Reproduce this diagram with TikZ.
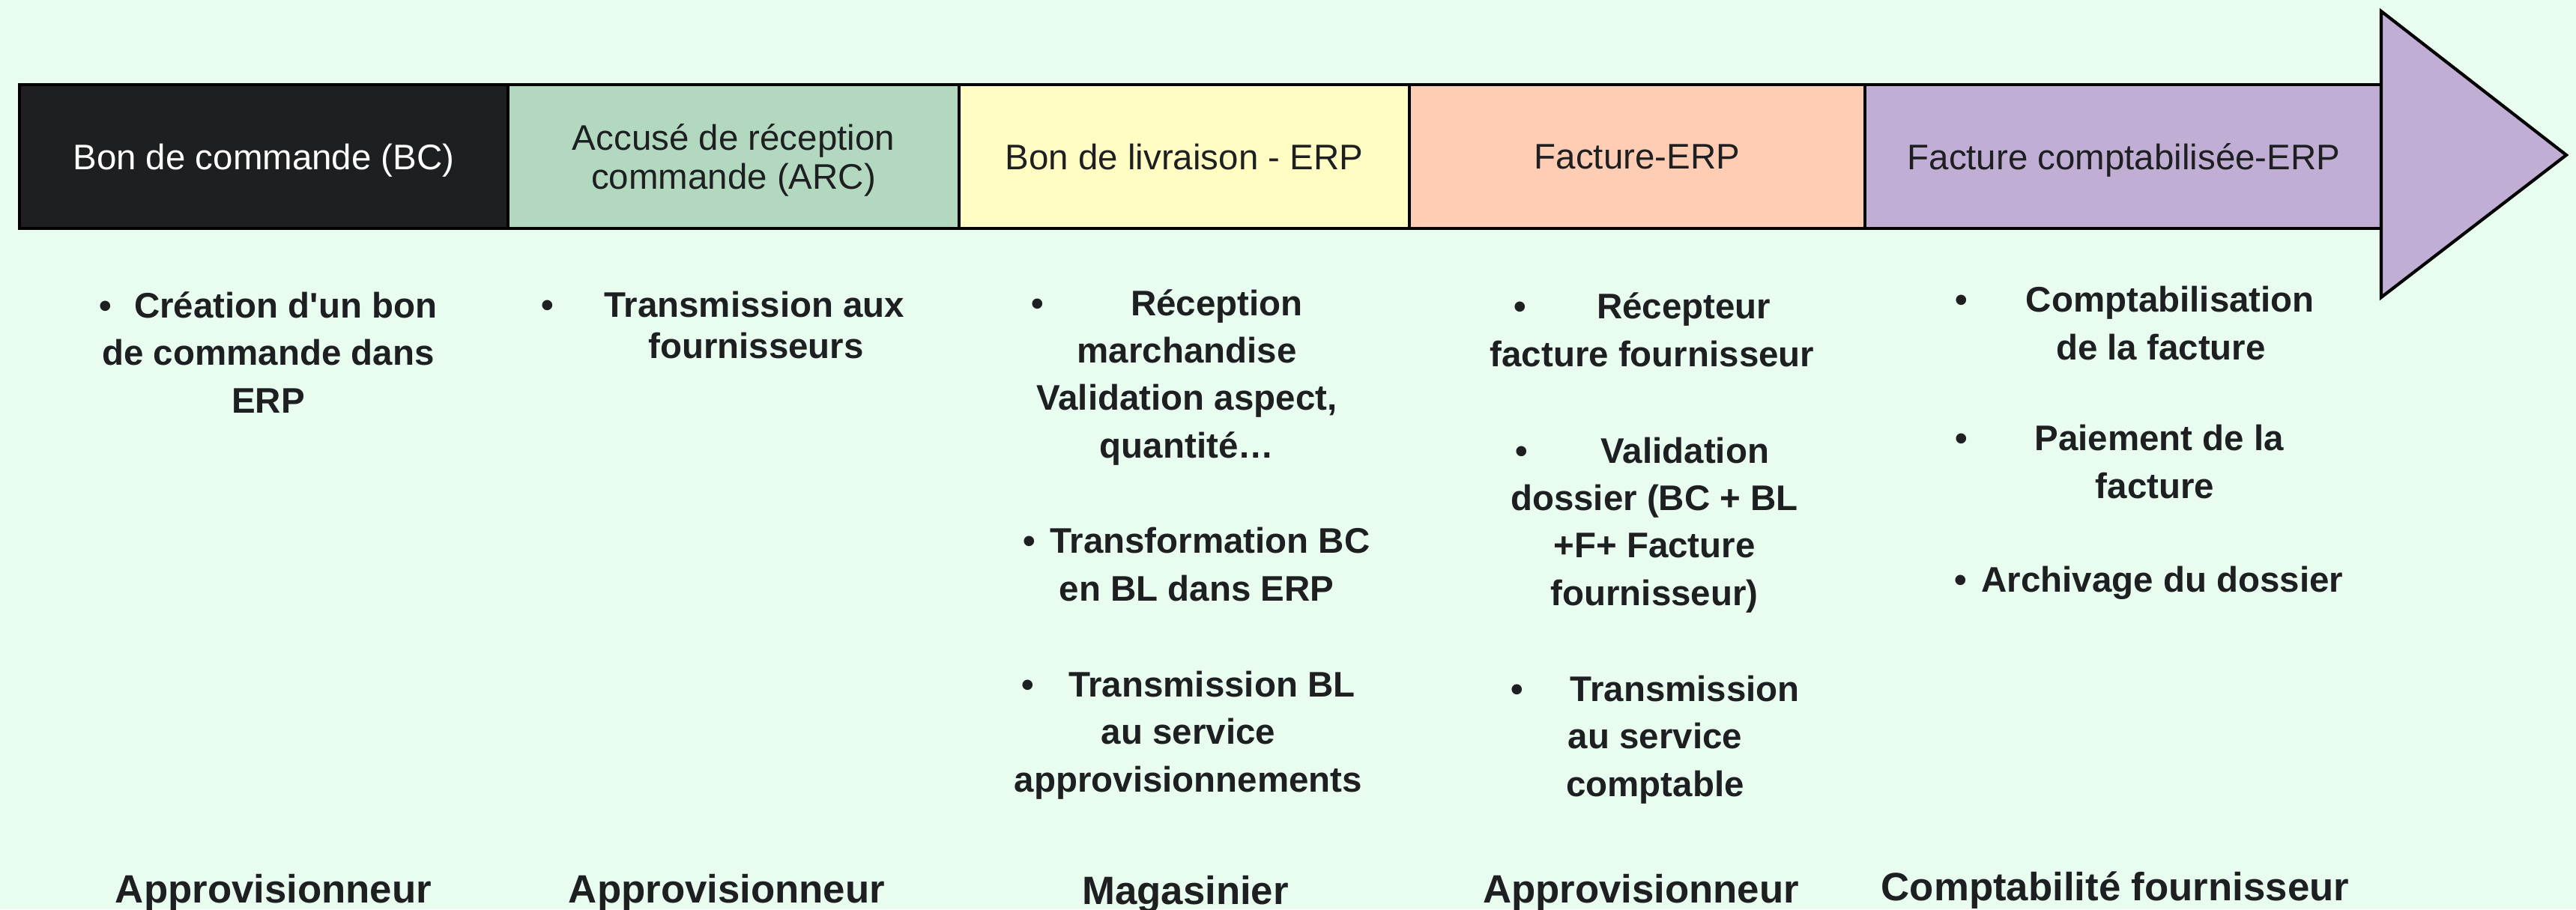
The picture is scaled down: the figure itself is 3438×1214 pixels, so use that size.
\documentclass[tikz,border=0pt]{standalone}
\usepackage{fontspec}
\setmainfont{Liberation Sans}
\definecolor{fond}{HTML}{E8FDF0}
\definecolor{noir}{HTML}{1E1F21}
\definecolor{vert}{HTML}{B2D8C0}
\definecolor{jaune}{HTML}{FFFDC4}
\definecolor{peche}{HTML}{FFCDB4}
\definecolor{mauve}{HTML}{C0AED4}
\tikzset{
	etape/.style = {draw = black, line width = 1.2pt, minimum height = 1.92cm, inner sep = 0pt, outer sep = 0pt, text depth = 0pt, align = center, text = noir, font = \fontsize{13.5}{15}\selectfont},
	tache/.style = {anchor = base, align = center, inner sep = 0pt, text = noir, font = \bfseries\fontsize{13.5}{18}\selectfont},
	acteur/.style = {anchor = base, inner sep = 0pt, text = noir, font = \bfseries\fontsize{15}{18}\selectfont}
}
\newcommand{\puce}[1]{\textbullet\hspace{#1}}
\newcommand{\cale}[1]{\rule{#1}{0pt}}
\begin{document}
\begin{tikzpicture}[x = 0.01cm, y = -0.01cm]
	% background
	\useasboundingbox (0, 0) rectangle (3438, 1214);
	\fill[fond] (0, 0) rectangle (3438, 1214);
	% stages of the arrow
	\node[etape, fill = noir, text = white, minimum width = 6.52cm] (bc)  at (352, 209)    {Bon de commande (BC)};
	\node[etape, fill = vert,  minimum width = 6.02cm]              (arc) at (979, 209)    {Accusé de réception\\ commande (ARC)};
	\node[etape, fill = jaune, minimum width = 6.01cm]              (bl)  at (1580.5, 209) {Bon de livraison - ERP};
	\node[etape, fill = peche, minimum width = 6.08cm]              (fac) at (2185, 209)   {Facture-ERP};
	\node[etape, fill = mauve, minimum width = 6.91cm]              (cpt) at (2834.5, 209) {Facture comptabilisée-ERP};
	% head of the arrow
	\draw[line width = 1.2pt, fill = mauve] (3178, 15) -- (3425, 207) -- (3178, 397) -- cycle;
	% tasks of each stage (placed at the baseline of their last line)
	\node[tache] (t11) at (358, 551)  {\puce{0.30cm}Création d\textquotesingle un bon\\de commande dans\\ERP};
	\node[tache, font = \bfseries\fontsize{13.5}{15.6}\selectfont] (t21) at (1009, 478) {\puce{0.67cm}Transmission aux\cale{0.88cm}\\fournisseurs};
	\node[tache] (t31) at (1584, 611) {\puce{1.16cm}Réception\cale{0.53cm}\\marchandise\\Validation aspect,\\quantité…};
	\node[tache] (t32) at (1597, 802) {\puce{0.19cm}Transformation BC\\en BL dans ERP};
	\node[tache] (t33) at (1586, 1057) {\puce{0.46cm}Transmission BL\\au service\\approvisionnements};
	\node[tache] (t41) at (2205, 489) {\puce{0.94cm}Récepteur\cale{0.26cm}\\facture fournisseur};
	\node[tache] (t42) at (2208, 808) {\puce{0.98cm}Validation\cale{0.33cm}\\dossier (BC + BL\\+F+ Facture\\fournisseur)};
	\node[tache] (t43) at (2209, 1063) {\puce{0.63cm}Transmission\\au service\\comptable};
	\node[tache] (t51) at (2884, 480) {\puce{0.78cm}Comptabilisation\cale{0.70cm}\\de la facture};
	\node[tache] (t52) at (2876, 665) {\puce{0.89cm}Paiement de la\cale{0.94cm}\\facture};
	\node[tache] (t53) at (2868, 790) {\puce{0.19cm}Archivage du dossier};
	% who does it
	\node[acteur] (a1) at (365, 1205)  {Approvisionneur};
	\node[acteur] (a2) at (970, 1205)  {Approvisionneur};
	\node[acteur] (m3) at (1582, 1207) {Magasinier};
	\node[acteur] (a4) at (2190, 1205) {Approvisionneur};
	\node[acteur] (c5) at (2823, 1202) {Comptabilité fournisseur};
\end{tikzpicture}
\end{document}
